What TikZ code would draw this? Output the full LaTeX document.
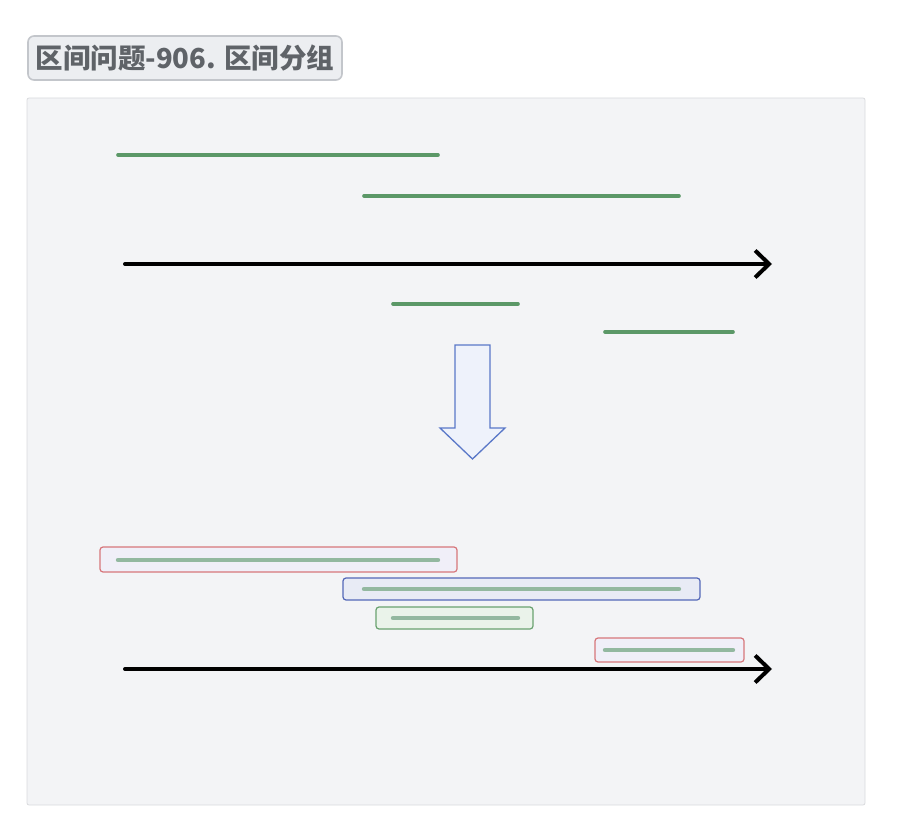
\documentclass[tikz,border=0pt]{standalone}
\usepackage{fontspec}
\newfontfamily\cjk{Noto Sans CJK SC}
\usetikzlibrary{arrows.meta,positioning}
\definecolor{panelfill}{HTML}{F3F4F6}
\definecolor{panelline}{HTML}{D9DADD}
\definecolor{titlefill}{HTML}{ECEEF1}
\definecolor{titleline}{HTML}{C3C6CB}
\definecolor{titletext}{HTML}{5F6368}
\definecolor{seggreen}{HTML}{5B9867}
\definecolor{palegreen}{HTML}{93B8A0}
\definecolor{redline}{HTML}{D7777B}
\definecolor{redfill}{HTML}{F0EFF8}
\definecolor{blueline}{HTML}{5468B8}
\definecolor{bluefill}{HTML}{E8EBF5}
\definecolor{greenline}{HTML}{6AA270}
\definecolor{greenfill}{HTML}{EAF3EA}
\definecolor{arrowline}{HTML}{5A78C8}
\definecolor{arrowfill}{HTML}{EEF2FB}
\begin{document}
\begin{tikzpicture}[x=1pt,y=-1pt,>={Straight Barb[length=14pt,width=27pt]},
  seg/.style={draw=seggreen,line width=3.6pt,line cap=round},
  grpseg/.style={draw=palegreen,line width=4.4pt,line cap=round},
  axis/.style={->,line width=4pt,line cap=round},
  grp/.style={rounded corners=3pt,line width=1.2pt,inner sep=0pt},
]
\useasboundingbox (0,0) rectangle (898,840);
%%
\node (title) at (185,58) [draw=titleline,fill=titlefill,line width=1.6pt,rounded corners=6pt,
  minimum width=314pt,minimum height=44pt,inner sep=0pt,text=titletext,font=\cjk\bfseries\fontsize{27.5}{32}\selectfont] {区间问题-906. 区间分组};
\node (panel) at (446,451.5) [draw=panelline,fill=panelfill,line width=0.8pt,rounded corners=2pt,
  minimum width=838pt,minimum height=707pt,inner sep=0pt] {};
%
\coordinate (i1a) at (118,155); \coordinate (i1b) at (438,155);
\coordinate (i2a) at (364,196); \coordinate (i2b) at (679,196);
\coordinate (i3a) at (393,304); \coordinate (i3b) at (518,304);
\coordinate (i4a) at (605,332); \coordinate (i4b) at (733,332);
\draw [seg] (i1a) -- (i1b);
\draw [seg] (i2a) -- (i2b);
\draw [seg] (i3a) -- (i3b);
\draw [seg] (i4a) -- (i4b);
\coordinate (ax1a) at (125,264); \coordinate (ax1b) at (772,264);
\draw [axis] (ax1a) -- (ax1b);
%
\draw [draw=arrowline,fill=arrowfill,line width=1.3pt,line join=miter]
  (455,345) -- (490,345) -- (490,428) -- (505,428) -- (472.5,459) -- (440,428) -- (455,428) -- cycle;
%
\node (g1) at (278.5,559.5) [grp,draw=redline,fill=redfill,minimum width=357pt,minimum height=25pt] {};
\node (g2) at (521.5,589) [grp,draw=blueline,fill=bluefill,minimum width=357pt,minimum height=22pt] {};
\node (g3) at (454.5,618) [grp,draw=greenline,fill=greenfill,minimum width=157pt,minimum height=22pt] {};
\node (g4) at (669.5,650) [grp,draw=redline,fill=redfill,minimum width=149pt,minimum height=24pt] {};
\coordinate (j1a) at (118,560); \coordinate (j1b) at (438,560);
\coordinate (j2a) at (364,589); \coordinate (j2b) at (679,589);
\coordinate (j3a) at (393,618); \coordinate (j3b) at (518,618);
\coordinate (j4a) at (605,650); \coordinate (j4b) at (733,650);
\draw [grpseg] (j1a) -- (j1b);
\draw [grpseg] (j2a) -- (j2b);
\draw [grpseg] (j3a) -- (j3b);
\draw [grpseg] (j4a) -- (j4b);
\coordinate (ax2a) at (125,669); \coordinate (ax2b) at (772,669);
\draw [axis] (ax2a) -- (ax2b);
%
\end{tikzpicture}
\end{document}
